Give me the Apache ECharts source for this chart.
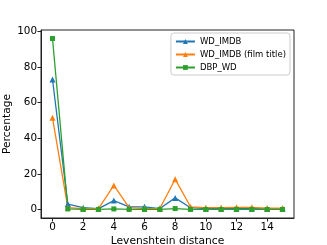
<!DOCTYPE html>
<html><head><meta charset="utf-8">
<script src="https://cdn.jsdelivr.net/npm/echarts@6/dist/echarts.min.js"></script>
<style>html,body{margin:0;padding:0;background:#fff}#c{width:327px;height:245px}</style>
</head><body><div id="c"></div>
<script>
const distances = [0,1,2,3,4,5,6,7,8,9,10,11,12,13,14,15];
const wdImdb = [73,3,1,0.5,5,1.5,1.5,0.5,6.5,1,0.5,0.5,0.5,0.5,0.3,0.3];
const wdImdbFilm = [51.5,1,0.5,0.5,13.5,1,0.5,0.5,17,1.5,1,1,1.2,1.2,0.8,0.8];
const dbpWd = [96,0.3,0,0,0.3,0,0,0,0.5,0,0,0,0,0,0,0];
const xTicks = [0,2,4,6,8,10,12,14];
const yTicks = [0,20,40,60,80,100];
const seriesNames = ['WD_IMDB','WD_IMDB (film title)','DBP_WD'];
const colors = ['#1f77b4','#ff7f0e','#2ca02c'];

const font = 'DejaVu Sans';
function mk(name, vals, color, symbol, size){
  return {name, type:'line', data: distances.map((d,i)=>[d, vals[i]]),
    symbol, symbolSize:size, color, lineStyle:{width:1.3, color}, itemStyle:{color},
    animation:false};
}
const chart = echarts.init(document.getElementById('c'));
chart.setOption({
  animation:false,
  textStyle:{fontFamily:font},
  grid:{left:41, right:33, top:30, bottom:27, show:true, borderColor:'#222', borderWidth:1,
    containLabel:false, outerBoundsMode:'none'},
  legend:{
    data: seriesNames, orient:'vertical', right:37, top:33,
    backgroundColor:'#fff', borderColor:'#ccc', borderWidth:1, borderRadius:3,
    padding:[4,4,3,4], itemGap:4, itemWidth:19, itemHeight:6,
    textStyle:{fontFamily:font, fontSize:8.5, color:'#000'}
  },
  xAxis:{type:'value', min:-0.75, max:15.75,
    name:'Levenshtein distance', nameLocation:'middle', nameGap:17.5, nameMoveOverlap:false,
    nameTextStyle:{fontFamily:font, fontSize:10.7, color:'#000'},
    axisLine:{show:true, onZero:false, lineStyle:{color:'#222'}},
    axisTick:{show:true, length:3.5, lineStyle:{color:'#222'}, customValues:xTicks},
    axisLabel:{fontFamily:font, fontSize:10.4, color:'#000', margin:4, customValues:xTicks},
    splitLine:{show:false}},
  yAxis:{type:'value', min:-4.8, max:100.8,
    name:'Percentage', nameLocation:'middle', nameGap:28, nameRotate:90, nameMoveOverlap:false,
    nameTextStyle:{fontFamily:font, fontSize:10.7, color:'#000'},
    axisLine:{show:true, onZero:false, lineStyle:{color:'#222'}},
    axisTick:{show:true, length:3.5, lineStyle:{color:'#222'}, customValues:yTicks},
    axisLabel:{fontFamily:font, fontSize:10.4, color:'#000', margin:4, customValues:yTicks},
    splitLine:{show:false}},
  series:[
    mk(seriesNames[0], wdImdb, colors[0], 'triangle', 6),
    mk(seriesNames[1], wdImdbFilm, colors[1], 'triangle', 6),
    mk(seriesNames[2], dbpWd, colors[2], 'rect', 5)
  ]
});
</script></body></html>
